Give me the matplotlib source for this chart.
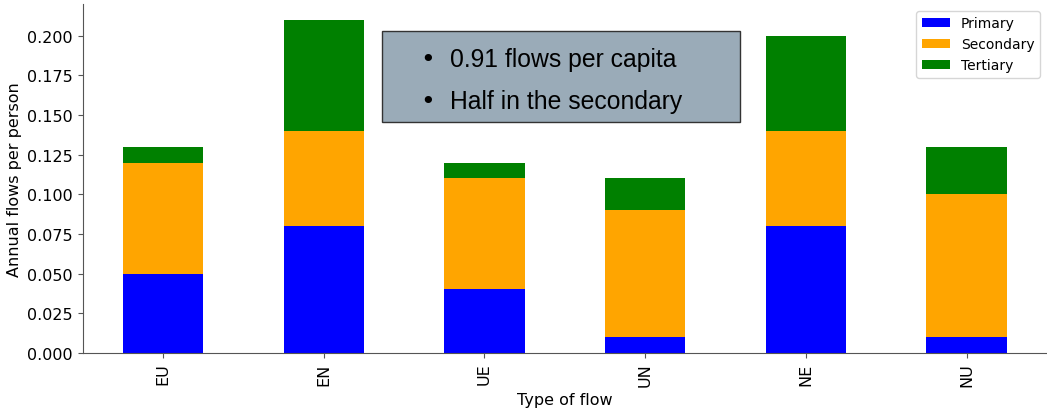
import numpy as np
import pandas as pd
import matplotlib
matplotlib.use("Agg")
import matplotlib.pyplot as plt
from matplotlib.patches import Rectangle

# Datos
flow_types = ["EU", "EN", "UE", "UN", "NE", "NU"]
primary = [0.05, 0.08, 0.04, 0.01, 0.08, 0.01]
secondary = [0.07, 0.06, 0.07, 0.08, 0.06, 0.09]
tertiary = [0.01, 0.07, 0.01, 0.02, 0.06, 0.03]
notes = ["0.91 flows per capita", "Half in the secondary"]

df = pd.DataFrame({"Primary": primary, "Secondary": secondary, "Tertiary": tertiary},
                  index=flow_types)

fig, ax = plt.subplots(figsize=(10.47, 4.10), dpi=100)
df.plot(kind="bar", stacked=True, color=["blue", "orange", "green"], ax=ax, width=0.5)

ax.set_ylim(0, 0.22)
ax.set_xlim(-0.5, 5.5)
ax.set_xlabel("Type of flow", fontsize=11.5)
ax.set_ylabel("Annual flows per person", fontsize=11.5)
ax.tick_params(axis="both", labelsize=11.5, color="#555555")
ax.set_yticks(np.arange(0, 0.201, 0.025))
ax.yaxis.set_major_formatter(matplotlib.ticker.FormatStrFormatter("%.3f"))
ax.spines["top"].set_visible(False)
ax.spines["right"].set_visible(False)
for s in ("left", "bottom"):
    ax.spines[s].set_color("#555555")

ax.legend(loc="upper right", fontsize=10)

# Cuadro de texto
ax.add_patch(Rectangle((0.310, 0.662), 0.372, 0.261, transform=ax.transAxes,
                       facecolor="#9aabb8", edgecolor="#333333", lw=1, zorder=5))
for yy, note in zip([0.843, 0.722], notes):
    ax.text(0.358, yy, "\u2022", transform=ax.transAxes, fontsize=18,
            family="DejaVu Sans", ha="center", va="center", zorder=6)
    ax.text(0.381, yy, note, transform=ax.transAxes, fontsize=17.8,
            family="Liberation Sans", ha="left", va="center", zorder=6)

fig.subplots_adjust(left=0.079, right=1.0, top=0.988, bottom=0.137)
fig.savefig("out.png", dpi=100)
